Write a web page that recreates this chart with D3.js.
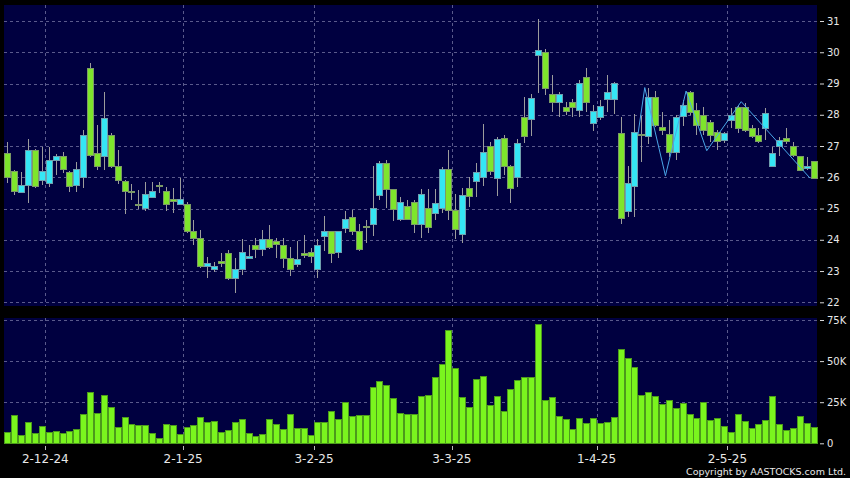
<!DOCTYPE html>
<html><head><meta charset="utf-8">
<script src="https://cdn.jsdelivr.net/npm/d3@7/dist/d3.min.js"></script>
<style>html,body{margin:0;padding:0;background:#000;}svg{display:block;}</style>
</head><body>
<svg id="chart" width="850" height="478"></svg>
<script>
// ---- DATA ----
const dates = [
"2024-11-22","2024-11-25","2024-11-26","2024-11-27","2024-11-28","2024-11-29",
"2024-12-02","2024-12-03","2024-12-04","2024-12-05","2024-12-06",
"2024-12-09","2024-12-10","2024-12-11","2024-12-12","2024-12-13",
"2024-12-16","2024-12-17","2024-12-18","2024-12-19","2024-12-20",
"2024-12-23","2024-12-24","2024-12-27","2024-12-30","2024-12-31",
"2025-01-02","2025-01-03","2025-01-06","2025-01-07","2025-01-08","2025-01-09","2025-01-10",
"2025-01-13","2025-01-14","2025-01-15","2025-01-16","2025-01-17",
"2025-01-20","2025-01-21","2025-01-22","2025-01-23","2025-01-24",
"2025-01-27","2025-01-28",
"2025-02-03","2025-02-04","2025-02-05","2025-02-06","2025-02-07",
"2025-02-10","2025-02-11","2025-02-12","2025-02-13","2025-02-14",
"2025-02-17","2025-02-18","2025-02-19","2025-02-20","2025-02-21",
"2025-02-24","2025-02-25","2025-02-26","2025-02-27","2025-02-28",
"2025-03-03","2025-03-04","2025-03-05","2025-03-06","2025-03-07",
"2025-03-10","2025-03-11","2025-03-12","2025-03-13","2025-03-14",
"2025-03-17","2025-03-18","2025-03-19","2025-03-20","2025-03-21",
"2025-03-24","2025-03-25","2025-03-26","2025-03-27","2025-03-28","2025-03-31",
"2025-04-01","2025-04-02","2025-04-03",
"2025-04-07","2025-04-08","2025-04-09","2025-04-10","2025-04-11",
"2025-04-14","2025-04-15","2025-04-16","2025-04-17",
"2025-04-22","2025-04-23","2025-04-24","2025-04-25",
"2025-04-28","2025-04-29","2025-04-30",
"2025-05-02","2025-05-06","2025-05-07","2025-05-08","2025-05-09",
"2025-05-12","2025-05-13","2025-05-14","2025-05-15","2025-05-16",
"2025-05-19","2025-05-20","2025-05-21"
];
const open = [
26.77,26.18,25.52,25.74,26.87,25.91,25.81,26.55,26.68,26.16,
25.74,26.00,29.49,26.77,26.68,27.35,26.36,25.86,25.56,25.14,
25.01,25.36,25.74,25.54,25.28,25.12,25.12,24.26,24.05,23.14,
23.06,23.30,23.57,22.77,23.06,23.41,23.81,23.68,24.02,23.94,
23.81,23.41,23.21,23.56,23.60,23.04,24.12,24.26,23.59,24.36,
24.72,24.27,24.43,24.48,25.43,26.45,25.62,24.64,25.06,25.20,
24.48,25.01,24.83,25.01,26.26,24.93,24.16,25.65,25.86,26.00,
26.97,25.97,27.25,26.36,26.00,27.92,27.86,29.91,30.00,28.65,
28.40,28.24,28.39,28.15,29.20,27.71,27.92,28.49,28.49,27.41,
24.92,25.72,27.38,27.32,28.56,27.60,27.38,26.78,27.93,28.72,
28.13,27.99,27.76,27.43,27.17,27.81,28.24,28.24,27.57,27.35,
27.57,26.34,27.00,27.25,26.98,26.66,26.27,26.50
];
const high = [
27.14,26.22,26.18,27.22,26.92,26.98,26.97,26.75,26.82,26.20,
26.50,27.51,29.66,27.67,28.74,27.43,26.87,25.90,25.80,25.60,
25.86,25.86,25.86,25.70,25.65,25.97,25.20,24.64,24.32,23.46,
23.30,23.57,23.68,23.41,24.02,23.84,24.05,24.32,24.48,24.05,
24.05,23.78,23.97,24.16,23.73,24.02,24.76,24.28,24.28,24.93,
24.95,24.51,24.64,26.36,26.53,26.55,25.64,25.36,25.26,25.28,
25.62,25.62,25.62,26.34,26.87,25.47,25.65,26.00,26.45,27.71,
27.14,27.28,27.35,26.38,27.22,28.58,28.67,31.05,30.09,29.27,
28.74,28.42,28.49,29.11,29.49,28.31,28.47,29.27,29.06,27.94,
26.36,28.03,27.95,28.85,28.77,28.10,27.83,28.00,28.47,28.77,
28.39,28.26,27.83,27.51,27.46,28.21,28.31,28.37,27.67,27.59,
28.23,26.98,27.30,27.57,27.14,26.68,26.66,26.52
];
const low = [
25.81,25.43,25.50,25.17,25.65,25.75,25.70,26.07,26.13,25.54,
25.54,25.65,26.65,26.23,26.23,26.30,25.79,24.82,25.28,25.00,
24.93,25.34,25.50,24.93,24.85,25.10,24.21,23.84,23.09,22.77,
22.98,23.14,22.72,22.31,22.88,23.38,23.41,23.48,23.70,23.41,
23.09,22.84,23.14,23.41,23.25,22.79,23.65,23.25,23.41,24.21,
24.16,23.65,23.91,24.12,25.28,25.01,24.61,24.61,24.64,24.21,
24.05,24.21,24.64,24.85,24.64,24.02,23.91,25.06,25.36,25.72,
26.07,25.41,26.07,25.17,25.70,27.11,27.32,28.71,28.63,28.10,
27.94,27.99,27.94,27.94,28.10,27.49,27.83,28.10,28.03,24.51,
24.74,24.74,26.50,27.05,27.62,27.35,26.66,26.55,27.64,27.99,
27.35,27.35,27.14,26.87,27.11,27.57,27.41,27.46,27.25,27.09,
27.20,26.34,26.69,27.07,26.66,26.23,26.23,25.97
];
const close = [
26.00,25.54,25.74,26.87,25.70,26.18,26.53,26.68,26.26,25.70,
26.26,27.35,26.70,26.34,27.87,26.36,25.91,25.54,25.54,25.12,
25.46,25.54,25.73,25.12,25.26,25.28,24.26,24.05,23.14,23.25,
23.16,23.28,22.77,23.06,23.60,23.48,23.68,24.02,23.76,23.86,
23.41,23.04,23.38,23.54,23.46,23.81,24.26,23.57,24.26,24.64,
24.27,23.70,24.41,25.01,26.45,25.62,24.96,25.20,24.66,24.48,
25.46,24.40,25.17,26.26,24.93,24.32,25.43,25.38,26.16,26.80,
26.18,27.22,26.36,25.65,27.07,27.30,28.51,30.05,28.85,28.40,
28.65,28.10,28.24,29.00,28.40,28.10,28.28,28.72,29.00,24.67,
25.81,27.44,27.35,28.56,27.67,27.50,26.80,27.92,28.29,28.06,
27.67,27.49,27.35,27.14,27.41,27.97,27.57,27.51,27.32,27.14,
28.05,26.77,27.19,27.16,26.71,26.23,26.34,25.97
];
const volume = [
6700,17000,4900,12600,6100,10100,6500,6900,5900,7100,
8100,17600,30600,18000,29000,21700,9700,15400,11600,10900,
10900,6100,3000,11600,10700,5500,9700,10700,15800,12600,
13000,6500,7500,12800,14200,5900,4300,5100,14600,11400,
8100,17400,8700,9100,4700,12600,12600,19100,14200,24900,
16000,17200,17000,33700,37300,34900,27000,18200,17400,17800,
28200,29200,40100,48000,68900,45600,27600,21500,38900,40900,
22700,28600,19100,32800,38500,39900,39900,72000,26200,27800,
16000,14600,8500,15200,12200,14800,12000,12400,15600,56800,
51300,46200,28800,30600,28600,23500,26200,21100,24300,17600,
15000,24700,14000,15200,10300,6500,17800,13000,9300,11400,
13600,28600,11600,7500,9100,16200,12000,9700
];
const lineDates = ["2025-04-10","2025-04-11","2025-04-16","2025-04-23","2025-04-28","2025-05-07","2025-05-21"];
const lineValues = [27.35,28.87,26.05,28.76,26.85,28.42,25.97];
const priceTicks = [22,23,24,25,26,27,28,29,30,31];
const volumeTicks = [0,25000,50000,75000];
const volumeTickLabels = ["0","25K","50K","75K"];
const dateTicks = ["2024-12-02","2025-01-02","2025-02-03","2025-03-03","2025-04-01","2025-05-02"];
const dateTickLabels = ["2-12-24","2-1-25","3-2-25","3-3-25","1-4-25","2-5-25"];

// ---- LAYOUT ----
const L = 4, R = 817;
const P = {top: 5, bottom: 306};
const V = {top: 318, bottom: 444};
const BG = "#000040", GRID = "#5a5a8c", TXT = "#e8e8e8";
const UP = "#35e6f4", DOWN = "#7ee52c";
const FONT = "DejaVu Sans, Verdana, sans-serif";

const data = dates.map((d,i)=>({d, o:open[i], h:high[i], l:low[i], c:close[i], v:volume[i]}));

const svg = d3.select("#chart");
svg.append("rect").attr("width",850).attr("height",478).attr("fill","#000");

const x = d3.scaleBand().domain(dates).range([L,R]).padding(0);
const bw = x.bandwidth();
const yP = d3.scaleLinear().domain([22,31]).range([302.3,21]);
const yV = d3.scaleLinear().domain([0,75000]).range([443.3,320]);
const cx = d => x(d) + bw/2;

// panels
svg.append("rect").attr("x",L).attr("y",P.top).attr("width",R-L).attr("height",P.bottom-P.top).attr("fill",BG);
svg.append("rect").attr("x",L).attr("y",V.top).attr("width",R-L).attr("height",V.bottom-V.top).attr("fill",BG);

// grids
const g = svg.append("g").attr("stroke",GRID).attr("stroke-dasharray","3,3").attr("stroke-width",1).attr("shape-rendering","crispEdges");
g.selectAll(".hp").data(priceTicks).join("line")
  .attr("x1",L).attr("x2",R).attr("y1",d=>Math.round(yP(d))+0.5).attr("y2",d=>Math.round(yP(d))+0.5);
g.selectAll(".hv").data(volumeTicks.filter(v=>v>0)).join("line").attr("class","hv")
  .attr("x1",L).attr("x2",R).attr("y1",d=>Math.round(yV(d))+0.5).attr("y2",d=>Math.round(yV(d))+0.5);
g.selectAll(".vp").data(dateTicks).join("line").attr("class","vp")
  .attr("x1",d=>Math.round(x(d))+0.5).attr("x2",d=>Math.round(x(d))+0.5).attr("y1",P.top).attr("y2",P.bottom);
g.selectAll(".vv").data(dateTicks).join("line").attr("class","vv")
  .attr("x1",d=>Math.round(x(d))+0.5).attr("x2",d=>Math.round(x(d))+0.5).attr("y1",V.top).attr("y2",V.bottom);

// candles
const cg = svg.append("g").attr("shape-rendering","crispEdges");
cg.selectAll("line.w").data(data).join("line").attr("class","w")
  .attr("x1",d=>Math.round(cx(d.d))+0.5).attr("x2",d=>Math.round(cx(d.d))+0.5)
  .attr("y1",d=>yP(d.h)).attr("y2",d=>yP(d.l))
  .attr("stroke","#9c9c9c").attr("stroke-width",1);
cg.selectAll("rect.b").data(data).join("rect").attr("class","b")
  .attr("x",d=>Math.round(cx(d.d))-2.5).attr("width",6)
  .attr("y",d=>yP(Math.max(d.o,d.c)))
  .attr("height",d=>Math.max(1.5, Math.abs(yP(d.o)-yP(d.c))))
  .attr("fill",d=>d.c>=d.o?UP:DOWN)
  .attr("stroke",d=>d.c>=d.o?"#6f9fae":"#7c9a66").attr("stroke-width",1);

// overlay line
svg.append("path")
  .datum(lineDates.map((d,i)=>({d, v:lineValues[i]})))
  .attr("d", d3.line().x(p=>x(p.d)).y(p=>yP(p.v)))
  .attr("fill","none").attr("stroke","#4aa6e8").attr("stroke-width",1);

// volume bars
svg.append("g").attr("shape-rendering","crispEdges")
  .selectAll("rect").data(data).join("rect")
  .attr("x",d=>Math.round(cx(d.d))-2.5).attr("width",6)
  .attr("y",d=>yV(d.v)).attr("height",d=>yV(0)-yV(d.v))
  .attr("fill","#7af51e").attr("stroke","#4c9a1c").attr("stroke-width",1);

// right axes
function styleAxis(sel){
  sel.select(".domain").remove();
  sel.selectAll(".tick line").attr("stroke","#d8d8d8");
  sel.selectAll(".tick text").attr("fill",TXT).attr("font-family",FONT).attr("font-size","10px");
}
svg.append("g").attr("transform","translate(820,0)")
  .call(d3.axisRight(yP).tickValues(priceTicks).tickSize(4).tickPadding(3).tickFormat(d3.format("d")))
  .call(styleAxis);
svg.append("g").attr("transform","translate(820,0)")
  .call(d3.axisRight(yV).tickValues(volumeTicks).tickSize(4).tickPadding(3).tickFormat((d,i)=>volumeTickLabels[i]))
  .call(styleAxis);

// date ticks + labels
svg.append("g").selectAll("line").data(dateTicks).join("line")
  .attr("x1",d=>Math.round(x(d))+0.5).attr("x2",d=>Math.round(x(d))+0.5)
  .attr("y1",446).attr("y2",450).attr("stroke","#bbbbbb").attr("shape-rendering","crispEdges");
svg.append("g").selectAll("text").data(dateTicks).join("text")
  .attr("x",d=>x(d)).attr("y",462.5).attr("text-anchor","middle")
  .attr("fill",TXT).attr("font-family",FONT).attr("font-size","12px")
  .text((d,i)=>dateTickLabels[i]);

svg.append("text").attr("x",846).attr("y",474.5).attr("text-anchor","end")
  .attr("fill",TXT).attr("font-family",FONT).attr("font-size","9.5px")
  .text("Copyright by AASTOCKS.com Ltd.");
</script>
</body></html>
